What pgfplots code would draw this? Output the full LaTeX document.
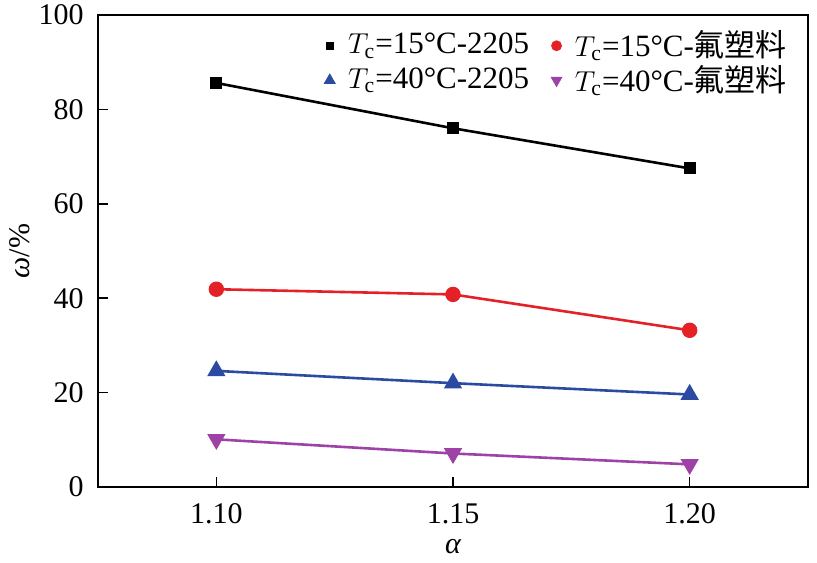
\documentclass[border=0pt]{standalone}
\usepackage{pgfplots}
\pgfplotsset{compat=1.18}
\usepackage{fontspec}
\setmainfont{Liberation Serif}
\newfontfamily\cjk{Noto Sans CJK SC}
\definecolor{cred}{HTML}{E52128}
\definecolor{cblue}{HTML}{2B4BA3}
\definecolor{cpurple}{HTML}{9E42A8}
\begin{document}
\fontsize{15}{18}\selectfont
\begin{tikzpicture}
\begin{axis}[
  name=main,
  scale only axis,
  width=355pt, height=236pt,
  xmin=1.075, xmax=1.225,
  ymin=0, ymax=100,
  xtick={1.10,1.15,1.20},
  xticklabels={1.10,1.15,1.20},
  ytick={0,20,40,60,80,100},
  tick align=inside,
  tick pos=left,
  major tick length=5pt,
  axis line style={line width=1pt},
  tick style={line width=0.8pt, black},
  /pgf/number format/assume math mode=true,
  ticklabel style={font=\fontsize{15}{18}\selectfont},
  yticklabel style={inner ysep=0pt, xshift=-2pt},
  xticklabel style={yshift=-3pt},
  xlabel={\itshape α},
  ylabel={\itshape ω\upshape/\%},
  label style={font=\fontsize{15}{18}\selectfont},
  xlabel style={at={(axis description cs:0.5,-0.127)}, anchor=center, inner sep=0pt},
  ylabel style={at={(axis description cs:-0.11,0.5)}, anchor=center, inner sep=0pt},
  legend columns=2,
  legend style={draw=none, fill=none, at={(rel axis cs:0.985,0.985)}, anchor=north east,
    font=\fontsize{15.5}{18.5}\selectfont, row sep=-2pt,
    /tikz/every odd column/.append style={column sep=4.5pt},
    /tikz/every even column/.append style={column sep=9pt}},
  legend cell align=left,
]
\addplot[black, line width=1.3pt, mark=square*, mark size=2.4pt, forget plot] coordinates {(1.10,85.6) (1.15,76.0) (1.20,67.5)};
\addplot[cred, line width=1.3pt, mark=*, mark size=3.2pt, forget plot] coordinates {(1.10,41.9) (1.15,40.8) (1.20,33.2)};
\addplot[cblue, line width=1.3pt, mark=triangle*, mark size=4pt, forget plot] coordinates {(1.10,24.6) (1.15,22.0) (1.20,19.6)};
\addplot[cpurple, line width=1.3pt, mark=triangle*, mark options={rotate=180}, mark size=4pt, forget plot] coordinates {(1.10,10.1) (1.15,7.1) (1.20,4.8)};
\addlegendimage{only marks, black, mark=square*, mark size=1.9pt}
\addlegendentry{$T_{\mathrm{c}}$=15°C-2205}
\addlegendimage{only marks, cred, mark=*, mark size=2.5pt}
\addlegendentry{$T_{\mathrm{c}}$=15°C-{\cjk 氟塑料}}
\addlegendimage{only marks, cblue, mark=triangle*, mark size=3.1pt}
\addlegendentry{$T_{\mathrm{c}}$=40°C-2205}
\addlegendimage{only marks, cpurple, mark=triangle*, mark options={rotate=180}, mark size=3.1pt}
\addlegendentry{$T_{\mathrm{c}}$=40°C-{\cjk 氟塑料}}
\end{axis}
\pgfresetboundingbox
\path ([shift={(-49pt,-37.5pt)}]main.south west) rectangle ([shift={(4.5pt,7.5pt)}]main.north east);
\end{tikzpicture}
\end{document}
